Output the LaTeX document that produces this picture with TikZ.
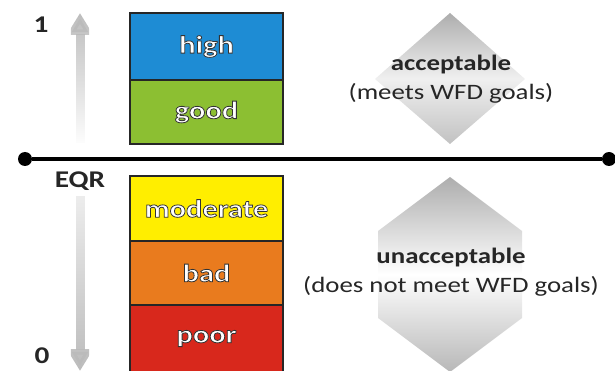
\documentclass[tikz,border=0pt]{standalone}
\usepackage{fontspec}
\setmainfont{Carlito}[FakeStretch=1.22]
\usepackage{tikz}
\usetikzlibrary{positioning,arrows.meta,fadings}

\definecolor{highblue}{RGB}{30,140,212}
\definecolor{goodgreen}{RGB}{140,191,50}
\definecolor{moderateyellow}{RGB}{255,238,0}
\definecolor{badorange}{RGB}{233,123,30}
\definecolor{poorred}{RGB}{216,40,28}

\tikzfading[name=fadedown, top color=transparent!0, bottom color=transparent!100]
\tikzfading[name=fadeupwards, top color=transparent!75, bottom color=transparent!0]

% white letters with a dark outline
\newcommand{\ratingtext}[1]{\special{pdf:literal direct 2 Tr 0.8 w 0.2 G}#1\special{pdf:literal direct 0 Tr}}

\begin{document}
\begin{tikzpicture}[x=1pt, y=-1pt,
	rating/.style={rectangle, draw=black!85, line width=1.5pt, outer sep=0pt, inner sep=0pt,
		minimum width=153pt, minimum height=64pt, text=white, font=\fontsize{25}{28}\selectfont\bfseries},
	verdict/.style={align=center, text=black!85, font=\fontsize{22}{29}\selectfont},
	axislabel/.style={text=black!85, inner sep=0pt, font=\fontsize{24}{28}\selectfont\bfseries},
	enddot/.style={circle, fill=black, inner sep=0pt, minimum size=14pt},
	divider/.style={line width=4.5pt, black},
	scalearrow/.style={line width=9pt, black!27, -{Triangle[width=25pt,length=22pt]}}
	]
	\useasboundingbox (0,0) rectangle (615,371);
	\clip (0,0) rectangle (615,371);

	% grey diamonds behind the verdicts
	\path[top color=black!32, bottom color=black!24, middle color=black!6]
		(450,13) -- (525,79) -- (450,144) -- (375,79) -- cycle;
	\path[top color=black!32, bottom color=black!28, middle color=white]
		(450,177) -- (522,231) -- (522,318) -- (450,372) -- (378,318) -- (378,231) -- cycle;

	% the five classes
	\node (high) [rating, fill=highblue, minimum height=67pt] at (206.5,46.5) {\ratingtext{high}};
	\node (good) [rating, fill=goodgreen, below=0pt of high] {\ratingtext{good}};
	\node (moderate) [rating, fill=moderateyellow, minimum height=65pt, below=32pt of good] {\ratingtext{moderate}};
	\node (bad) [rating, fill=badorange, below=0pt of moderate] {\ratingtext{bad}};
	\node (poor) [rating, fill=poorred, minimum height=67pt, below=0pt of bad] {\ratingtext{poor}};

	% boundary between acceptable and unacceptable
	\node (leftdot) [enddot] at (25,159) {};
	\node (rightdot) [enddot] at (609,159) {};
	\draw[divider] (leftdot) -- (rightdot);

	% EQR scale
	\node (one) [axislabel] at (41,25) {1};
	\node (eqr) [axislabel] at (80,181) {EQR};
	\node (zero) [axislabel] at (42,356) {0};
	\coordinate (upstart) at (80,143);
	\coordinate (uptip) at (80,13);
	\coordinate (downstart) at (80,196);
	\coordinate (downtip) at (80,371);
	\draw[scalearrow, path fading=fadedown] (upstart) -- (uptip);
	\draw[scalearrow, path fading=fadeupwards] (downstart) -- (downtip);

	% verdicts
	\node (accept) [verdict] at (451,79) {\textbf{acceptable}\\(meets WFD goals)};
	\node (reject) [verdict] at (451,272) {\textbf{unacceptable}\\(does not meet WFD goals)};
\end{tikzpicture}
\end{document}
